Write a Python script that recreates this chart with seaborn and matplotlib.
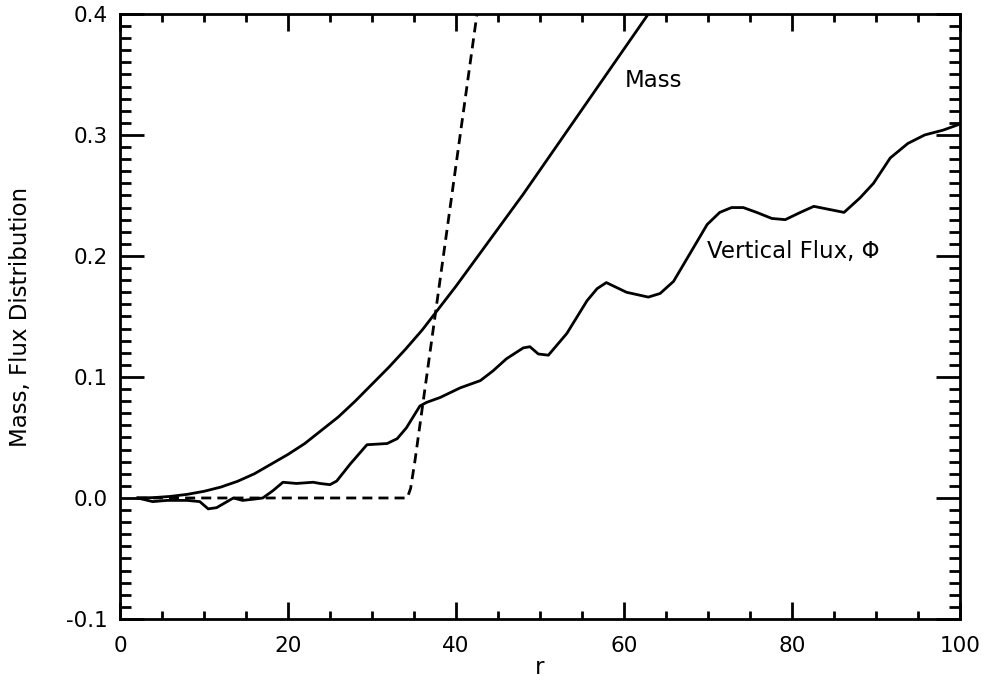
import numpy as np
import pandas as pd
import matplotlib
matplotlib.use("Agg")
import matplotlib.pyplot as plt
from matplotlib.ticker import MultipleLocator, FormatStrFormatter
import seaborn as sns

# Enclosed mass versus radius
mass_r = [2, 4, 6, 8, 10, 12, 14, 16, 18, 20, 22, 24, 26, 28, 30, 32, 34,
          36, 38, 40, 42, 44, 46, 48, 50, 52, 54, 56, 58, 60, 62, 64]
mass_v = [0.0, 0.0003, 0.0013, 0.003, 0.0055, 0.009, 0.0138, 0.020, 0.028,
          0.036, 0.045, 0.056, 0.067, 0.080, 0.094, 0.108, 0.123, 0.139,
          0.157, 0.175, 0.194, 0.213, 0.232, 0.251, 0.271, 0.291, 0.311,
          0.331, 0.351, 0.371, 0.391, 0.411]

# Vertical magnetic flux versus radius
flux_r = [2.1, 3.9, 5.6, 8.0, 9.5, 10.5, 11.5, 13.5, 14.6, 15.9, 17.0, 18.2,
          19.4, 21.0, 23.0, 23.8, 25.0, 25.8, 27.4, 29.4, 31.8, 33.0, 34.1,
          35.7, 36.5, 38.1, 40.5, 42.9, 44.4, 46.0, 48.0, 48.8, 49.8, 51.0,
          53.2, 55.6, 56.8, 57.9, 60.3, 62.9, 64.3, 65.9, 68.2, 69.9, 71.4,
          72.8, 74.2, 75.8, 77.6, 79.2, 81.0, 82.6, 86.2, 88.1, 89.7, 91.7,
          93.8, 95.8, 98.0, 100.0]
flux_v = [0.0, -0.003, -0.002, -0.002, -0.003, -0.009, -0.008, 0.000, -0.002,
          -0.001, 0.000, 0.006, 0.013, 0.012, 0.013, 0.012, 0.011, 0.014,
          0.028, 0.044, 0.045, 0.049, 0.058, 0.076, 0.079, 0.083, 0.091,
          0.097, 0.105, 0.115, 0.124, 0.125, 0.119, 0.118, 0.136, 0.163,
          0.173, 0.178, 0.170, 0.166, 0.169, 0.179, 0.206, 0.226, 0.236,
          0.240, 0.240, 0.236, 0.231, 0.230, 0.236, 0.241, 0.236, 0.248,
          0.260, 0.281, 0.293, 0.300, 0.304, 0.309]

# Reference profile (dashed)
ref_r = [2.0, 34.2, 34.6, 35.1, 42.5, 44.0]
ref_v = [0.0, 0.0, 0.008, 0.030, 0.400, 0.475]

x_ticks = [0, 20, 40, 60, 80, 100]
y_ticks = [-0.1, 0.0, 0.1, 0.2, 0.3, 0.4]

sns.set_style("ticks")
plt.rcParams["font.family"] = ["DejaVu Sans"]
plt.rcParams["text.color"] = "black"
plt.rcParams["axes.labelcolor"] = "black"

FS = 16.5
TICK_FS = 15.5
LW = 2.0

fig = plt.figure(figsize=(9.86, 6.87), dpi=100)
ax = fig.add_axes([0.1217, 0.099, 0.8519, 0.8807])

mass_df = pd.DataFrame({"r": mass_r, "v": mass_v})
flux_df = pd.DataFrame({"r": flux_r, "v": flux_v})
ref_df = pd.DataFrame({"r": ref_r, "v": ref_v})

sns.lineplot(data=mass_df, x="r", y="v", ax=ax, color="black", lw=LW,
             sort=False, estimator=None)
sns.lineplot(data=flux_df, x="r", y="v", ax=ax, color="black", lw=LW,
             sort=False, estimator=None)
sns.lineplot(data=ref_df, x="r", y="v", ax=ax, color="black", lw=LW,
             sort=False, estimator=None)
ax.lines[-1].set_dashes((3.6, 2.2))

ax.set_xlim(0, 100)
ax.set_ylim(-0.1, 0.4)
ax.set_xticks(x_ticks)
ax.set_yticks(y_ticks)
ax.xaxis.set_minor_locator(MultipleLocator(5))
ax.yaxis.set_minor_locator(MultipleLocator(0.01))
ax.yaxis.set_major_formatter(FormatStrFormatter("%.1f"))

for s in ax.spines.values():
    s.set_visible(True)
    s.set_linewidth(LW)
    s.set_color("black")

ax.tick_params(axis="both", which="both", direction="in", top=True,
               right=True, color="black", width=LW, labelsize=TICK_FS,
               labelcolor="black")
ax.tick_params(axis="x", which="major", length=12, pad=12)
ax.tick_params(axis="x", which="minor", length=6)
ax.tick_params(axis="y", which="major", length=17, pad=9)
ax.tick_params(axis="y", which="minor", length=8)

ax.set_xlabel("r", fontsize=FS, labelpad=0)
ax.set_ylabel("Mass, Flux Distribution", fontsize=FS, labelpad=24)

ax.text(60.1, 0.345, "Mass", fontsize=FS, va="center", ha="left")
ax.text(69.9, 0.204, "Vertical Flux, Φ", fontsize=FS, va="center",
        ha="left")

fig.savefig("out.png", dpi=100)
